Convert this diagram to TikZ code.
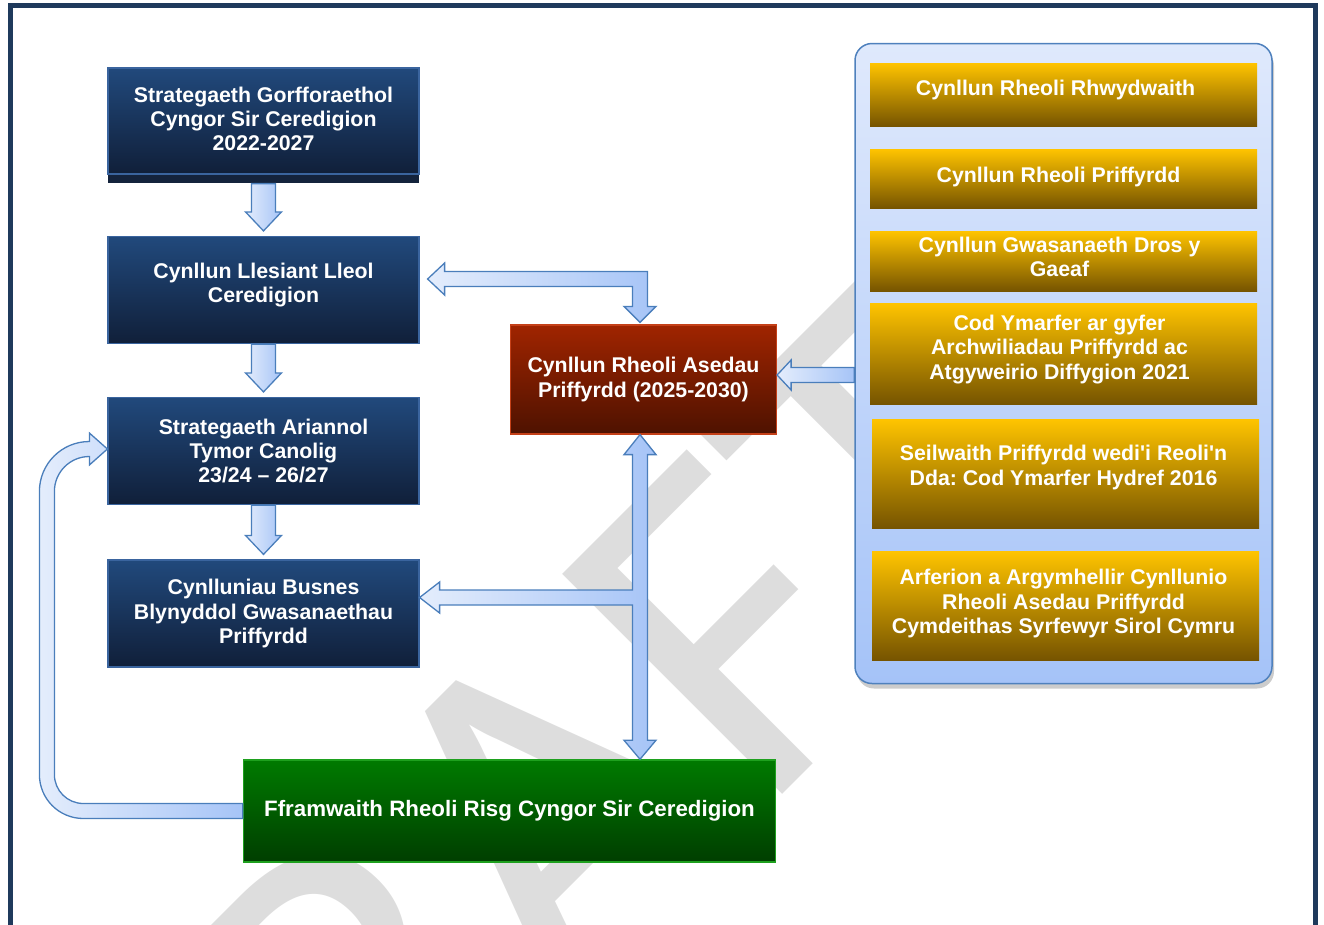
\documentclass[tikz,border=0pt]{standalone}
\usepackage{fontspec}
\setmainfont{Liberation Sans}
\newfontfamily\draftfont{Carlito}
\usetikzlibrary{calc, shadows}
\frenchspacing

\definecolor{framenavy}{RGB}{31,58,92}
\definecolor{navytop}{RGB}{33,73,124}
\definecolor{navybot}{RGB}{16,31,57}
\definecolor{navyline}{RGB}{58,100,158}
\definecolor{navyshadow}{RGB}{20,35,60}
\definecolor{redtop}{RGB}{160,36,0}
\definecolor{redbot}{RGB}{78,18,0}
\definecolor{redline}{RGB}{196,64,24}
\definecolor{greentop}{RGB}{0,122,0}
\definecolor{greenbot}{RGB}{0,62,0}
\definecolor{greenline}{RGB}{30,160,30}
\definecolor{goldtop}{RGB}{255,196,0}
\definecolor{goldbot}{RGB}{118,84,0}
\definecolor{paneltop}{RGB}{223,233,252}
\definecolor{panelbot}{RGB}{165,195,248}
\definecolor{panelline}{RGB}{79,129,189}
\definecolor{arrowlight}{RGB}{228,237,252}
\definecolor{arrowdark}{RGB}{166,196,247}
\definecolor{arrowline}{RGB}{74,126,187}
\definecolor{draftgray}{RGB}{221,221,221}

% block arrow pointing down, from #1 to #2
\newcommand{\downblock}[2]{%
  \draw[blockarrow, left color=arrowlight, right color=arrowdark]
    let \p1=(#1), \p2=(#2) in
    (\x1-12pt,\y1) -- (\x1+12pt,\y1) -- (\x1+12pt,\y2+19pt) -- (\x1+18pt,\y2+19pt)
    -- (\x1,\y2) -- (\x1-18pt,\y2+19pt) -- (\x1-12pt,\y2+19pt) -- cycle;}

\begin{document}
\begin{tikzpicture}[x=1pt, y=-1pt,
    boxtext/.style={align=center, text=white, inner sep=4pt, font=\bfseries\fontsize{21.3}{24.3}\selectfont},
    navybox/.style={boxtext, rectangle, draw=navyline, line width=1.2pt, top color=navytop, bottom color=navybot, minimum width=311, minimum height=107},
    redbox/.style={boxtext, rectangle, draw=redline, line width=1.2pt, top color=redtop, bottom color=redbot, minimum width=266, minimum height=109},
    greenbox/.style={boxtext, rectangle, draw=greenline, line width=1.5pt, top color=greentop, bottom color=greenbot, minimum width=532, minimum height=102, font=\bfseries\fontsize{22.3}{25}\selectfont},
    goldbox/.style={rectangle, top color=goldtop, bottom color=goldbot, minimum width=387},
    panelbox/.style={rectangle, rounded corners=17pt, draw=panelline, line width=1.5pt, top color=paneltop, bottom color=panelbot, minimum width=417, minimum height=640, drop shadow={shadow xshift=2pt, shadow yshift=-5pt, opacity=0.2, fill=black}},
    blockarrow/.style={draw=arrowline, line width=1.3pt, line join=miter},
    draftmark/.style={anchor=base west, rotate=45, inner sep=0pt, text=draftgray, font=\draftfont\fontsize{485}{485}\selectfont}
]
\useasboundingbox (0,0) rectangle (1324,924);

% Watermark
\begin{scope}
  \clip (0,0) rectangle (1324,924);
  \node[draftmark] (draft) at (164,1413) {DRAFT};
\end{scope}

% Frame
\draw[line width=5pt, draw=framenavy] (10.5,940) -- (10.5,5.5) -- (1315.5,5.5) -- (1315.5,940);

% Codes and guidance
\node[panelbox] (panel) at (1063.5,363.5) {};
\node[goldbox, minimum height=63] (crr) at (1063.5,94.5) {};
\node[goldbox, minimum height=59] (crp) at (1063.5,178.5) {};
\node[goldbox, minimum height=60] (cgg) at (1063.5,261) {};
\node[goldbox, minimum height=101] (cya) at (1063.5,353.5) {};
\node[goldbox, minimum height=109] (spr) at (1065.5,473.5) {};
\node[goldbox, minimum height=109] (aac) at (1065.5,605.5) {};

\node[boxtext] (crr-t) at ([shift={(-8,-5)}]crr.center) {Cynllun Rheoli Rhwydwaith};
\node[boxtext] (crp-t) at ([shift={(-5,-2)}]crp.center) {Cynllun Rheoli Priffyrdd};
\node[boxtext] (cgg-t) at ([shift={(-4,-4)}]cgg.center) {Cynllun Gwasanaeth Dros y\\Gaeaf};
\node[boxtext] (cya-t) at ([shift={(-4,-4)}]cya.center) {Cod Ymarfer ar gyfer\\Archwiliadau Priffyrdd ac\\Atgyweirio Diffygion 2021};
\node[boxtext] (spr-t) at ([shift={(-2,-6)}]spr.center) {Seilwaith Priffyrdd wedi\textquotesingle i Reoli\textquotesingle n\\Dda: Cod Ymarfer Hydref 2016};
\node[boxtext] (aac-t) at ([shift={(-2,-2)}]aac.center) {Arferion a Argymhellir Cynllunio\\Rheoli Asedau Priffyrdd\\Cymdeithas Syrfewyr Sirol Cymru};

% Council plans
\node[navybox, minimum height=106, drop shadow={shadow xshift=0pt, shadow yshift=-9pt, opacity=1, fill=navyshadow}] (sgo) at (263.5,121) {};
\node[boxtext] (sgo-t) at ([yshift=2pt]sgo.center) {Strategaeth Gorfforaethol\\Cyngor Sir Ceredigion\\2022-2027};
\node[navybox] (cll) at (263.5,290) {};
\node[boxtext] (cll-t) at ([yshift=5pt]cll.center) {Cynllun Llesiant Lleol\\Ceredigion};
\node[navybox] (sat) at (263.5,451) {Strategaeth Ariannol\\Tymor Canolig\\23/24 -- 26/27};
\node[navybox] (cbg) at (263.5,613.5) {Cynlluniau Busnes\\Blynyddol Gwasanaethau\\Priffyrdd};

\node[redbox] (cra) at (643.5,379.5) {Cynllun Rheoli Asedau\\Priffyrdd (2025-2030)};
\node[greenbox] (ffr) at (509.5,811) {Fframwaith Rheoli Risg Cyngor Sir Ceredigion};

% Arrows
\downblock{[yshift=-9pt]sgo.south}{[yshift=5pt]cll.north}
\downblock{cll.south}{[yshift=5pt]sat.north}
\downblock{sat.south}{[yshift=5pt]cbg.north}

\draw[blockarrow, left color=arrowlight, right color=arrowdark]
  let \p1=([shift={(8,-11)}]cll.east), \p2=([shift={(-3.5,-2)}]cra.north) in
  (\x1,\y1) -- (\x1+17pt,\y1+16pt) -- (\x1+17pt,\y1+7.5pt) -- (\x2+7.5pt,\y1+7.5pt)
  -- (\x2+7.5pt,\y2+16pt) -- (\x2+16pt,\y2+16pt) -- (\x2,\y2) -- (\x2-16pt,\y2+16pt)
  -- (\x2-7.5pt,\y2+16pt) -- (\x2-7.5pt,\y1-7.5pt) -- (\x1+17pt,\y1-7.5pt)
  -- (\x1+17pt,\y1-16pt) -- cycle;

\draw[blockarrow, left color=arrowlight, right color=arrowdark]
  let \p1=([xshift=-3.5pt]cra.south), \p2=(ffr.north), \p3=([yshift=16pt]cbg.east) in
  (\x1,\y1) -- (\x1+16pt,\y1-20pt) -- (\x1+7.5pt,\y1-20pt) -- (\x1+7.5pt,\y2+19pt)
  -- (\x1+16pt,\y2+19pt) -- (\x1,\y2) -- (\x1-16pt,\y2+19pt) -- (\x1-7.5pt,\y2+19pt)
  -- (\x1-7.5pt,\y3-7.5pt) -- (\x3+20pt,\y3-7.5pt) -- (\x3+20pt,\y3-15.5pt) -- (\x3,\y3)
  -- (\x3+20pt,\y3+15.5pt) -- (\x3+20pt,\y3+7.5pt) -- (\x1-7.5pt,\y3+7.5pt)
  -- (\x1-7.5pt,\y1-20pt) -- (\x1-16pt,\y1-20pt) -- cycle;

\draw[blockarrow, left color=arrowlight, right color=arrowdark]
  let \p1=([yshift=4.5pt]cra.east), \p2=(panel.west) in
  (\x2,\y1+7.5pt) -- (\x1+14pt,\y1+7.5pt) -- (\x1+14pt,\y1+15pt) -- (\x1,\y1)
  -- (\x1+14pt,\y1-15pt) -- (\x1+14pt,\y1-7.5pt) -- (\x2,\y1-7.5pt) -- cycle;

\draw[blockarrow, left color=arrowlight, right color=arrowdark]
  let \p1=(ffr.west), \p2=([yshift=2pt]sat.west) in
  (\x1,\y1-7.5pt) -- (\x2-24pt,\y1-7.5pt) to[out=180,in=270] (\x2-68pt,\y1+36.5pt)
  -- (\x2-68pt,\y2-42.5pt) to[out=90,in=180] (\x2-18pt,\y2+7.5pt)
  -- (\x2-18pt,\y2+16pt) -- (\x2,\y2) -- (\x2-18pt,\y2-16pt) -- (\x2-18pt,\y2-7.5pt)
  to[out=180,in=90] (\x2-53pt,\y2-42.5pt) -- (\x2-53pt,\y1+36.5pt)
  to[out=270,in=180] (\x2-24pt,\y1+7.5pt) -- (\x1,\y1+7.5pt) -- cycle;

\end{tikzpicture}
\end{document}
